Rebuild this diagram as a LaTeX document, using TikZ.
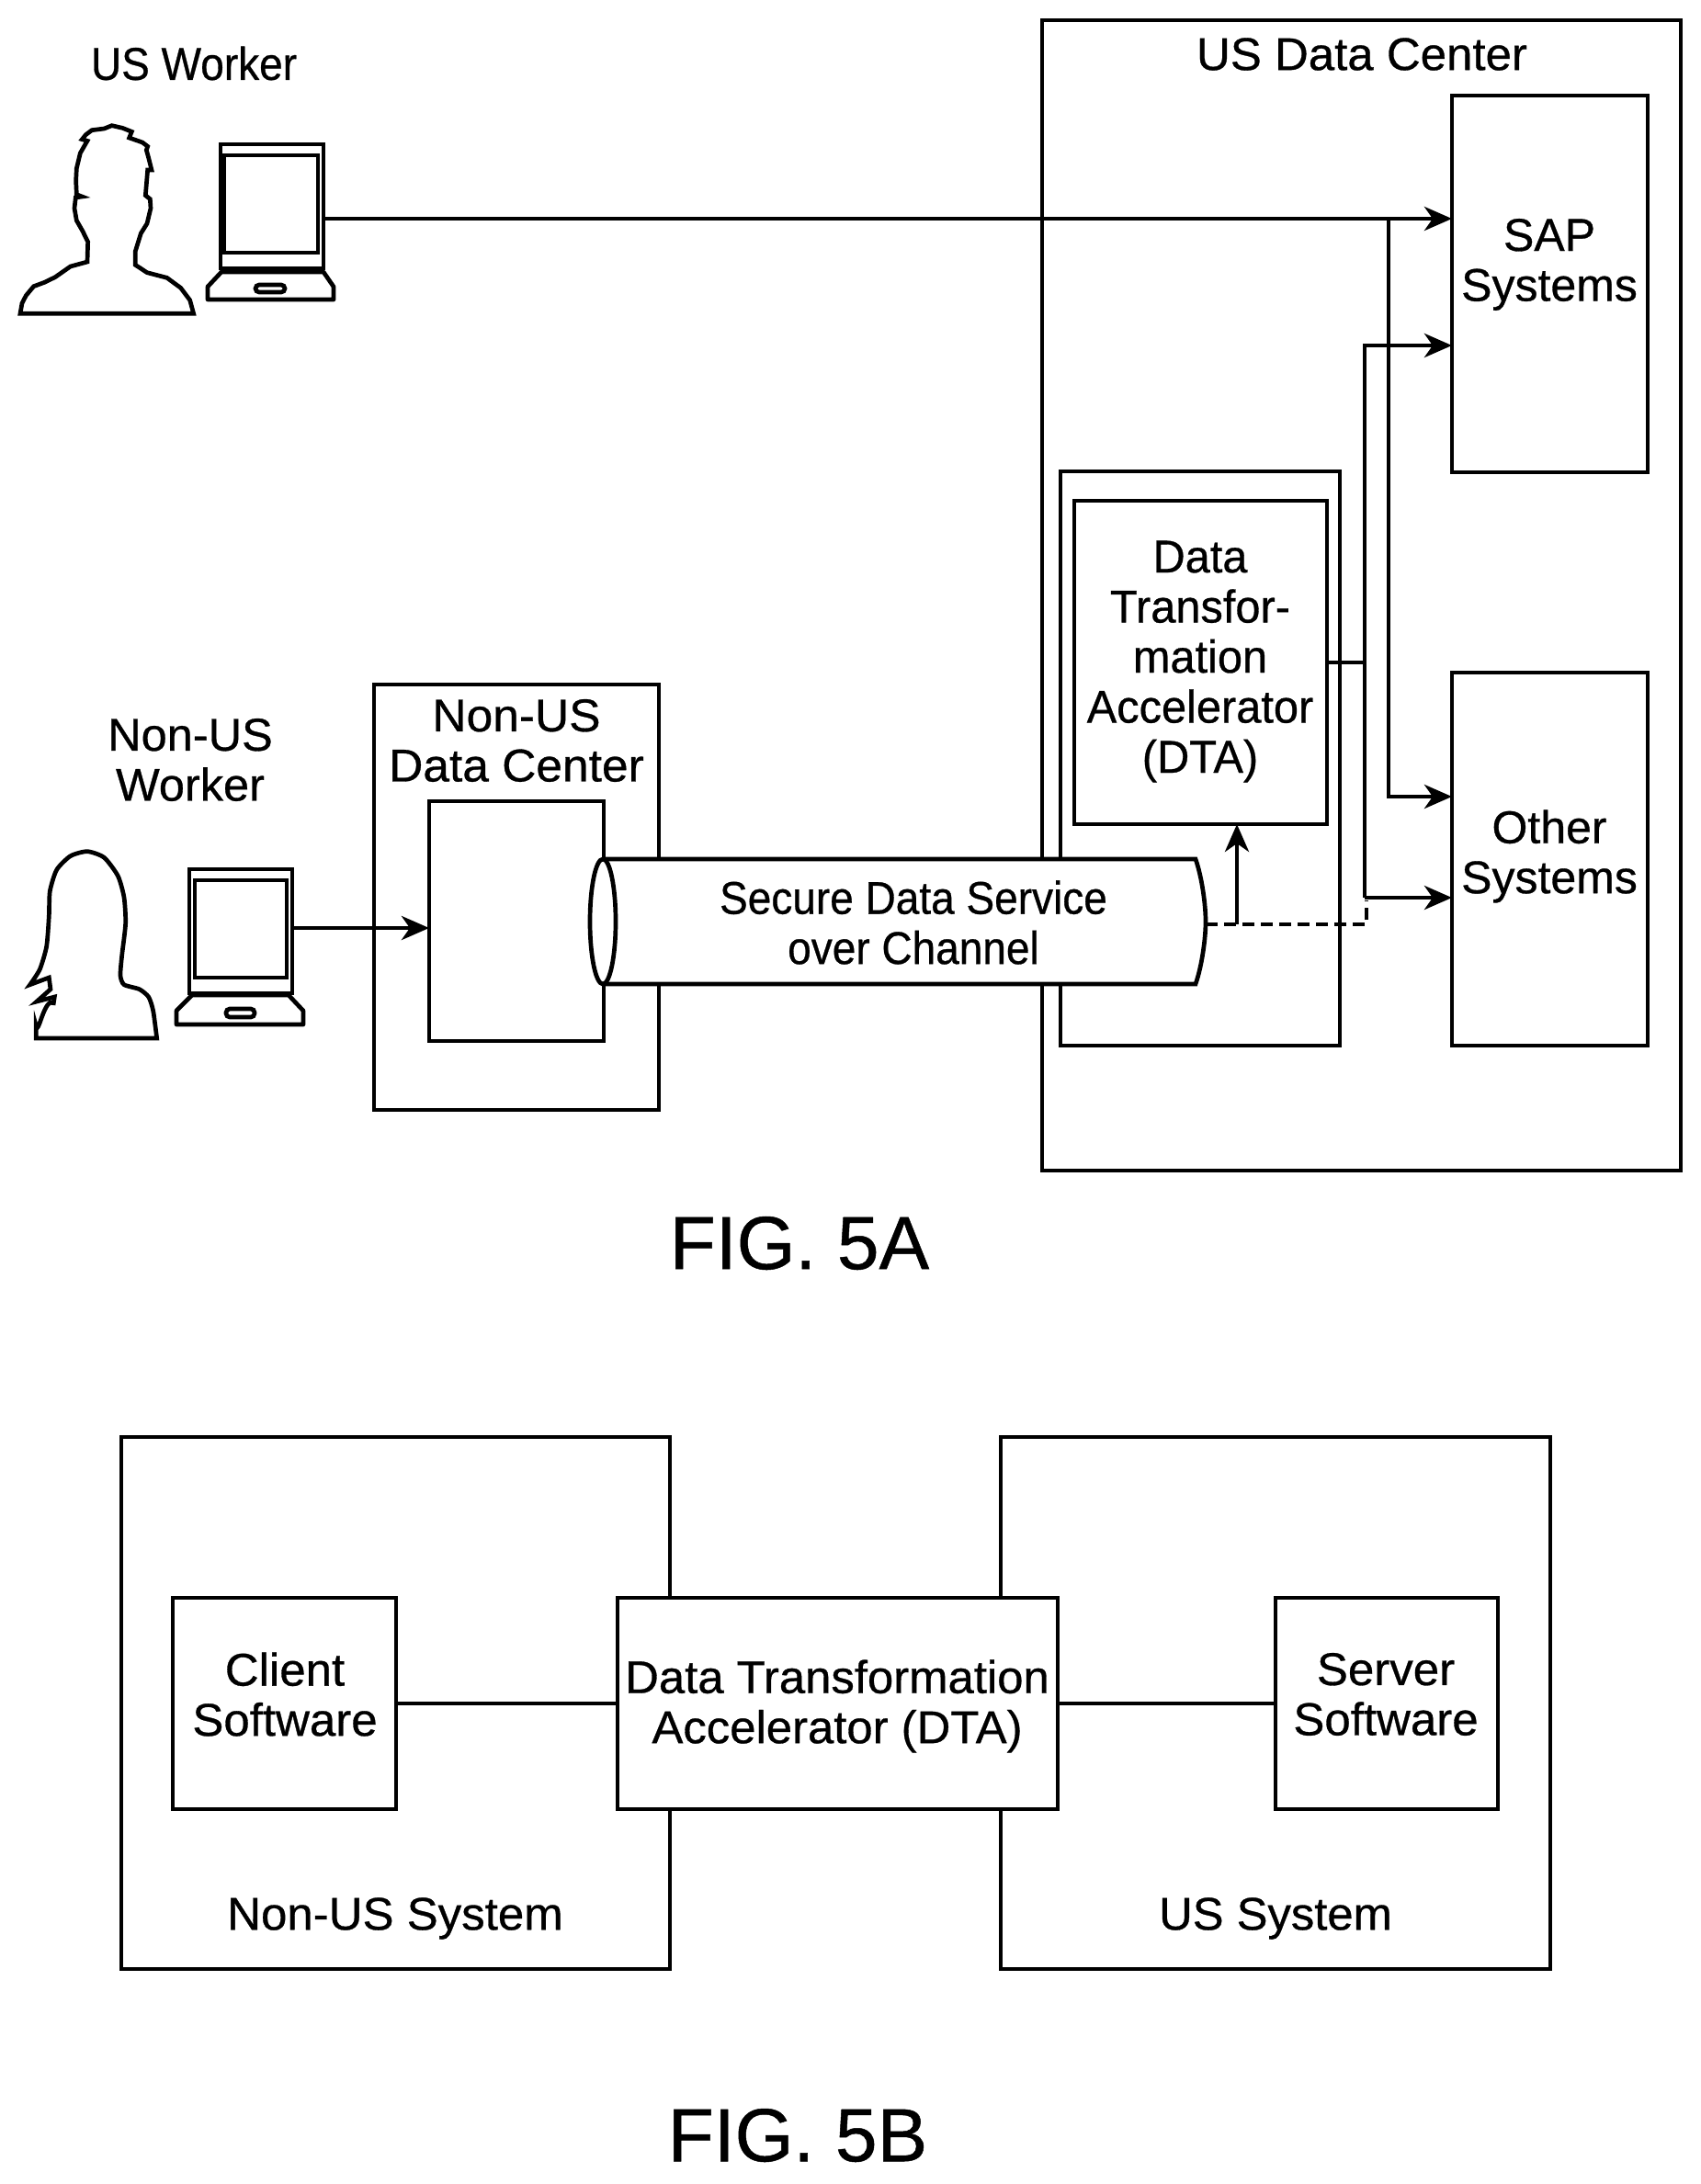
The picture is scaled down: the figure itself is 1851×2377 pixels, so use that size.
\documentclass[tikz,border=0pt]{standalone}
\usepackage{fontspec}
\setmainfont{Liberation Sans}[FakeBold=0.6]
\usetikzlibrary{arrows.meta}
\tikzset{
  x=1pt,y=-1pt,
  every path/.style={line width=4.7pt,line join=miter},
  blk/.style={draw,rectangle,inner sep=0pt,outer sep=0pt,line width=4.7pt},
  wbk/.style={blk,fill=white},
  lbl/.style={align=center,inner sep=0pt,font=\fontsize{50}{54.5}\selectfont},
  fig/.style={inner sep=0pt,font=\fontsize{82}{90}\selectfont},
  arr/.style={-{Stealth[length=30pt,width=26pt,inset=9pt]}},
  dsh/.style={dash pattern=on 13.3pt off 6.7pt},
}
% \bx{style}{name}{x1}{y1}{x2}{y2}
\newcommand{\bx}[6]{%
  \pgfmathsetmacro{\bw}{#5-#3}\pgfmathsetmacro{\bh}{#6-#4}%
  \pgfmathsetmacro{\bcx}{(#3+#5)/2}\pgfmathsetmacro{\bcy}{(#4+#6)/2}%
  \node[#1,minimum width=\bw pt,minimum height=\bh pt] (#2) at (\bcx,\bcy) {};}
\begin{document}
\begin{tikzpicture}
\useasboundingbox (0,0) rectangle (1851,2377);
% ---------- FIG 5A boxes
\bx{blk}{usdc}{1134}{22}{1829}{1274}
\bx{blk}{sap}{1580}{104}{1793}{514}
\bx{blk}{other}{1580}{732}{1793}{1138}
\bx{blk}{dtaouter}{1154}{513}{1458}{1138}
\bx{blk}{dtainner}{1169}{545}{1444}{897}
\bx{blk}{nonusdc}{407}{745}{717}{1208}
\bx{blk}{gateway}{467}{872}{657}{1133}
% people
\begin{scope}[shift={(0,100)},scale=1/3,line join=round]
\draw (66,724) -- (72,690) -- (85,665) -- (110,635) -- (145,622) -- (180,605) -- (230,570) -- (285,555) -- (287,490) -- (270,455) -- (250,420) -- (243,380) -- (247,345) -- (268,342) -- (250,335) -- (248,290) -- (250,250) -- (262,200) -- (285,160) -- (268,155) -- (280,140) -- (300,125) -- (340,120) -- (365,110) -- (400,118) -- (430,130) -- (422,150) -- (465,165) -- (482,178) -- (478,190) -- (485,215) -- (495,255) -- (482,255) -- (475,338) -- (490,350) -- (492,380) -- (480,430) -- (460,462) -- (442,520) -- (442,565) -- (480,590) -- (545,607) -- (590,640) -- (620,680) -- (632,724) -- cycle;
\end{scope}
\begin{scope}[shift={(0,890)},scale=1/3,line join=round]
\draw plot[smooth,tension=0.4] coordinates {(512,720)(500,630)(485,585)(455,560)(405,545)(393,515)(398,450)(410,345)(405,260)(385,190)(340,130)(285,110)(230,125)(185,170)(163,240)(160,320)(152,420)(130,495)(98,545)} -- (160,522) -- (165,560) -- (120,600) -- (178,585) -- (175,605) to[out=145,in=-80] (118,680) -- (118,720) -- cycle;
\end{scope}
% laptops
\bx{blk}{laptopa}{240}{157}{352}{292}
\bx{blk}{screena}{243}{169}{346}{275}
\draw[line width=5pt] (243,169) -- (243,275);
\draw[line join=round] (241,296) -- (352,296) -- (363,312) -- (363,326) -- (226,326) -- (226,312) -- cycle;
\draw[rounded corners=4pt] (278,310) rectangle (310,318);
\bx{blk}{laptopb}{206}{946}{318}{1081}
\bx{blk}{screenb}{212}{958}{312}{1064}
\draw[line join=round] (209,1083) -- (314,1083) -- (330,1100) -- (330,1115) -- (192,1115) -- (192,1100) -- cycle;
\draw[rounded corners=4pt] (246,1098) rectangle (277,1107);
% pipe
\node[inner sep=0pt,outer sep=0pt,minimum width=656pt,minimum height=136pt] (pipe) at (984,1003) {};
\fill[white] (656,935) -- (1301,935) .. controls (1308,955) and (1312,985) .. (1312,1003) .. controls (1312,1021) and (1308,1051) .. (1301,1071) -- (656,1071) -- cycle;
\draw (656,935) -- (1301,935) .. controls (1308,955) and (1312,985) .. (1312,1003) .. controls (1312,1021) and (1308,1051) .. (1301,1071) -- (656,1071);
\draw[fill=white] (656,1003) ellipse [x radius=14pt,y radius=68pt];
% junction coordinates
\coordinate (sapa) at (1580,238);
\coordinate (sapb) at (1580,376);
\coordinate (othera) at (1580,867);
\coordinate (otherb) at (1580,977);
\coordinate (jusa) at (1511,238);
\coordinate (busb) at (1485,376);
\coordinate (busc) at (1485,977);
\coordinate (busd) at (1485,721);
\coordinate (jothera) at (1511,867);
\coordinate (fork) at (1346,1006);
\coordinate (dashend) at (1487,1006);
\coordinate (dashtop) at (1487,980);
\coordinate (gwin) at (467,1010);
% connectors
\draw[arr] (laptopa.east |- sapa) -- (sapa);
\draw[arr] (jusa) -- (jothera) -- (othera);
\draw[arr] (busc) -- (busb) -- (sapb);
\draw[arr] (busc) -- (otherb);
\draw (dtainner.east |- busd) -- (busd);
\draw[arr] (laptopb.east |- gwin) -- (gwin);
\draw[arr] (fork) -- (fork |- dtainner.south);
\draw[dsh] (pipe.east |- fork) -- (dashend) -- (dashtop);
% labels
\node[lbl,xscale=.92] (tuswork) at (211,69) {US Worker};
\node[lbl,xscale=1.02] (tusdc) at (1482,59) {US Data Center};
\node[lbl] (tsap) at (1686,288) {SAP\\Systems};
\node[lbl] (tother) at (1686,932) {Other\\Systems};
\node[lbl,xscale=.975] (tdta) at (1306,720) {Data\\Transfor-\\mation\\Accelerator\\(DTA)};
\node[lbl,xscale=1.03] (tnusdc) at (562,806) {Non-US\\Data Center};
\node[lbl,xscale=1.01] (tnuswork) at (207,827) {Non-US\\Worker};
\node[lbl,xscale=.92] (tpipe) at (994,1004) {Secure Data Service\\over Channel};
\node[fig] (figa) at (870,1353) {FIG. 5A};
% ---------- FIG 5B
\bx{blk}{nonussys}{132}{1564}{729}{2143}
\bx{blk}{ussys}{1089}{1564}{1687}{2143}
\bx{wbk}{client}{188}{1739}{431}{1969}
\bx{wbk}{dtab}{672}{1739}{1151}{1969}
\bx{wbk}{server}{1388}{1739}{1630}{1969}
\draw (client.east |- 0,1854) -- (dtab.west |- 0,1854);
\draw (dtab.east |- 0,1854) -- (server.west |- 0,1854);
\node[lbl,xscale=1.02] (tclient) at (310,1844) {Client\\Software};
\node[lbl,xscale=1.017] (tdtab) at (911,1857) {Data Transformation\\Accelerator (DTA)};
\node[lbl,xscale=1.02] (tserver) at (1508,1844) {Server\\Software};
\node[lbl,xscale=1.02] (tnonus) at (430,2088) {Non-US System};
\node[lbl,xscale=1.015] (tus) at (1388,2088) {US System};
\node[fig] (figb) at (868,2324) {FIG. 5B};
\end{tikzpicture}
\end{document}
